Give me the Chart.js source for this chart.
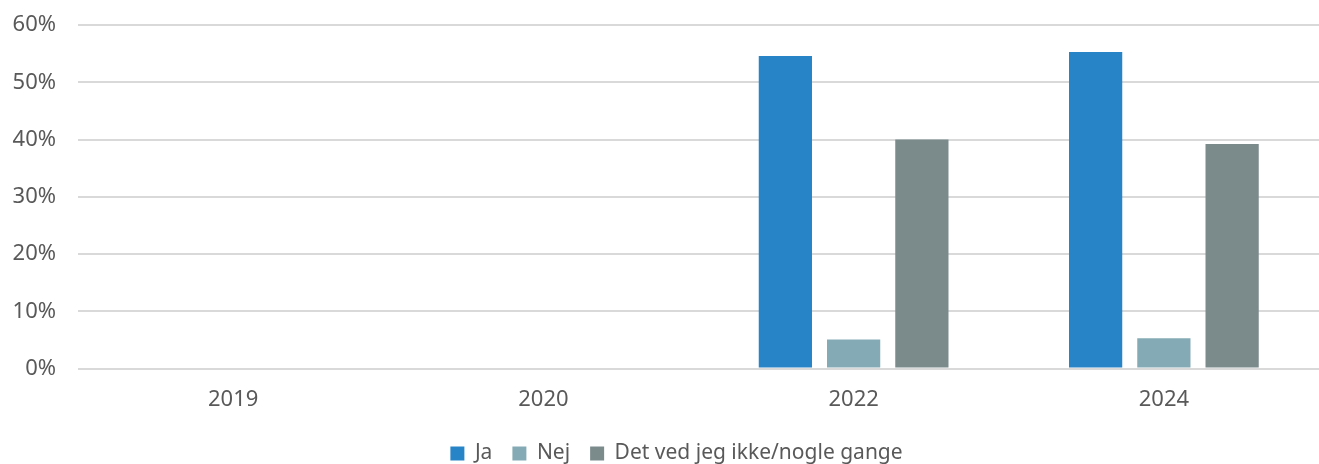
<!DOCTYPE html>
<html>
<head>
<meta charset="utf-8">
<script src="https://cdn.jsdelivr.net/npm/chart.js@4/dist/chart.umd.min.js"></script>
<style>
  html, body { margin: 0; padding: 0; background: #fff; }
  #wrap { width: 1319px; height: 464px; position: relative; }
</style>
</head>
<body>
<div id="wrap"><canvas id="chart"></canvas></div>
<script>
const years = ["2019", "2020", "2022", "2024"];
const ja = [null, null, 54.6, 55.3];
const nej = [null, null, 5.1, 5.3];
const vedIkke = [null, null, 40.0, 39.2];
const yTicks = [0, 10, 20, 30, 40, 50, 60];

const fontFamily = "'Noto Sans', 'Open Sans', sans-serif";
const textColor = "#595959";

// the reference centres its legend a bit right of the canvas middle
const legendShift = {
    id: "legendShift",
    afterLayout(chart) {
        chart.legend.left += 17;
        chart.legend.right += 17;
    }
};

new Chart(document.getElementById("chart"), {
    type: "bar",
    data: {
        labels: years,
        datasets: [
            { label: "Ja", data: ja, backgroundColor: "#2784c7" },
            { label: "Nej", data: nej, backgroundColor: "#84abb5" },
            { label: "Det ved jeg ikke/nogle gange", data: vedIkke, backgroundColor: "#7b8b8c" }
        ]
    },
    plugins: [legendShift],
    options: {
        responsive: true,
        maintainAspectRatio: false,
        animation: false,
        layout: { padding: { top: 25, right: 0, left: 0, bottom: -10 } },
        datasets: {
            bar: { categoryPercentage: 0.66, barPercentage: 0.78 }
        },
        plugins: {
            tooltip: { enabled: false },
            legend: {
                position: "bottom",
                labels: {
                    boxWidth: 14,
                    boxHeight: 14,
                    padding: 20,
                    color: textColor,
                    font: { family: fontFamily, size: 21 }
                }
            }
        },
        scales: {
            x: {
                grid: { display: false },
                border: { display: false },
                ticks: {
                    color: textColor,
                    padding: 10,
                    font: { family: fontFamily, size: 22 }
                }
            },
            y: {
                min: 0,
                max: 60,
                afterFit(scale) {
                    scale.width = 78;
                    scale.paddingTop = 0;
                    scale.paddingBottom = 0;
                },
                afterBuildTicks(scale) { scale.ticks = yTicks.map(v => ({ value: v })); },
                grid: { color: "#d9d9d9", lineWidth: 2, drawTicks: false },
                border: { display: false },
                ticks: {
                    color: textColor,
                    padding: 22,
                    font: { family: fontFamily, size: 22 },
                    callback: v => v + "%"
                }
            }
        }
    }
});
</script>
</body>
</html>
